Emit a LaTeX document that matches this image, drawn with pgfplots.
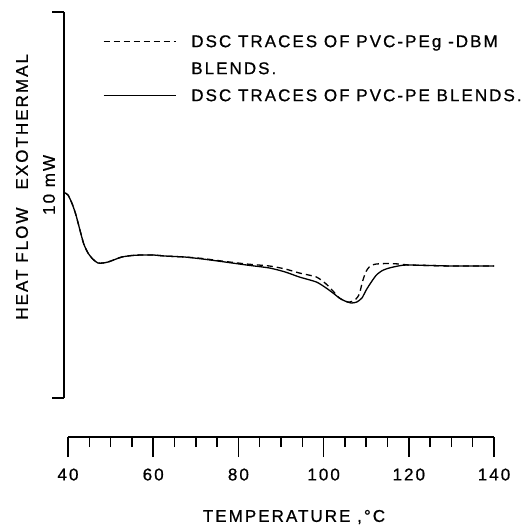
\documentclass[border=0pt]{standalone}
\usepackage{fontspec}
\setmainfont{Liberation Sans}[LetterSpace=12, FakeBold=0.8]
\usepackage{pgfplots}
\pgfplotsset{compat=1.18}
\pgfplotstableread{
x y
39.3 205
40.0 203
40.9 195
41.8 184
42.8 168
43.7 154
44.7 145
45.8 139
47.0 135
48.2 135
49.4 136
51.0 138.5
52.6 141
55.0 142.5
57.3 143
60.0 143
62.7 142
65.0 141.5
67.4 141
71.6 139
76.0 136.5
81.9 133
87.3 130
91.0 126
94.3 121
98.3 116
100.6 110
102.2 105
103.7 100
105.0 97
106.5 95
107.8 96
109.0 100
110.0 108
111.2 116
112.4 123
113.8 127.5
115.4 130
117.5 132
119.4 133
125 132.5
130 132
135 132
140 132
}\pvcpe
\pgfplotstableread{
x y
39.3 205
40.0 203
40.9 195
41.8 184
42.8 168
43.7 154
44.7 145
45.8 139
47.0 135
48.2 135
49.4 136
51.0 138.5
52.6 141
55.0 142.5
57.3 143
60.0 143
62.7 142
65.0 141.5
67.4 141
71.6 139.5
76.0 137
81.9 134
87.3 132
91.0 129
94.3 125
98.3 121
100.6 114
102.2 107
103.7 100
105.6 96
106.6 96.5
107.6 99
108.4 104
109.1 116
109.9 126
110.7 131
111.5 133
112.4 134
115 134.5
117.7 134
120 133
125 132.5
130 132
135 132
140 132
}\pvcpeg
\begin{document}
\begin{tikzpicture}[font=\fontsize{17bp}{20bp}\selectfont]
\path[use as bounding box] (0bp,0bp) rectangle (524bp,-527bp);
\begin{axis}[
  at={(64bp,-398bp)}, anchor=south west,
  scale only axis, width=430bp, height=386bp,
  xmin=39.06, xmax=140, ymin=0, ymax=386,
  axis y line=left, axis x line=none,
  axis line style={-, line width=1.5bp},
  ytick={0,386}, yticklabels={}, xtick=\empty,
  tick align=outside, major tick length=12bp,
  every tick/.style={black, line width=1.5bp},
  clip=false,
  ylabel={HEAT FLOW\hspace{18bp}EXOTHERMAL},
  ylabel style={at={(rel axis cs:-0.0977,0.547)}, anchor=center},
  legend style={draw=none, fill=none, at={(rel axis cs:0.0907,0.94)}, anchor=north west,
    inner sep=0pt, outer sep=0pt, row sep=14bp, column sep=15bp,
    nodes={inner sep=0pt, text height=12bp, text depth=1bp}},
  legend cell align=left,
  legend image code/.code={\draw[#1] (0bp,0bp) -- (72bp,0bp);},
]
\addplot[black, line width=1.3bp, dash pattern=on 6bp off 4bp, smooth, tension=0.4] table {\pvcpeg};
\addlegendentry{DSC TRACES OF PVC-PEg -DBM}
\addlegendimage{empty legend}
\addlegendentry{BLENDS.}
\addplot[black, line width=1.3bp, smooth, tension=0.4] table {\pvcpe};
\addlegendentry{DSC TRACES OF PVC-PE BLENDS.}
\node[rotate=90, anchor=center] at (rel axis cs:-0.0349,0.552) {10 mW};
\end{axis}
\begin{axis}[
  at={(68bp,-437bp)}, anchor=south west,
  scale only axis, width=426bp, height=20bp,
  xmin=40, xmax=140, ymin=0, ymax=1,
  axis x line=bottom, axis y line=none,
  axis line style={-, line width=1.5bp},
  xtick={40,60,...,140}, minor xtick={45,50,...,135},
  tick align=outside, major tick length=20bp, minor tick length=10bp,
  every tick/.style={black, line width=1.5bp},
  /pgf/number format/assume math mode=true,
  xticklabel style={yshift=-8bp},
  xlabel={TEMPERATURE ,°C},
  xlabel style={at={(axis cs:93.05,0)}, anchor=center, yshift=-80bp},
]
\end{axis}
\end{tikzpicture}
\end{document}
